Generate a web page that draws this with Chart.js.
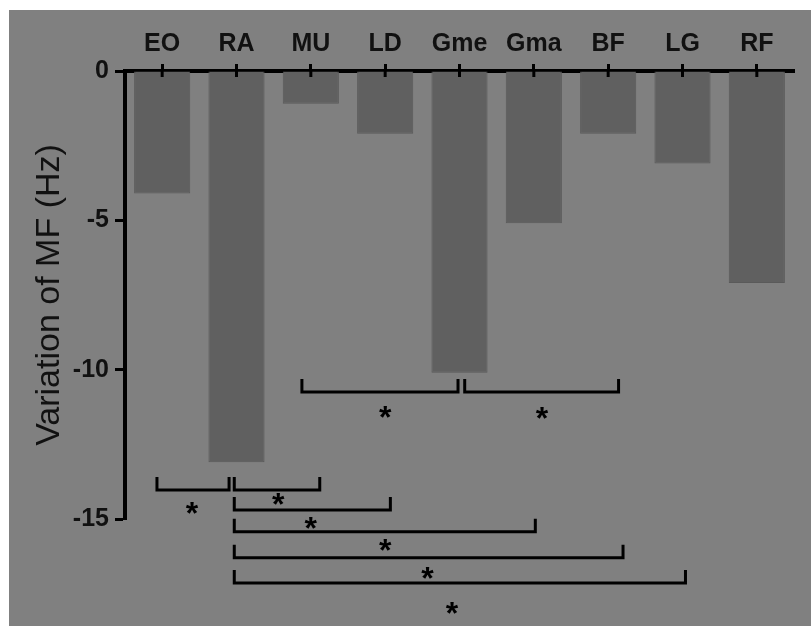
<!DOCTYPE html>
<html>
<head>
<meta charset="utf-8">
<script src="https://cdn.jsdelivr.net/npm/chart.js@4.4.1/dist/chart.umd.min.js"></script>
<style>
  html, body { margin: 0; padding: 0; background: #ffffff; }
  #cadre { position: absolute; left: 9px; top: 10px; width: 802px; height: 616px; background: #808080; }
</style>
</head>
<body>
<div id="cadre"><canvas id="myChart" width="802" height="616"></canvas></div>
<script>
// ----------- DONNEES -----------
const categories = ['EO', 'RA', 'MU', 'LD', 'Gme', 'Gma', 'BF', 'LG', 'RF'];
const variationMF = [-4.1, -13.1, -1.1, -2.1, -10.1, -5.1, -2.1, -3.1, -7.1];
const yTicks = [0, -5, -10, -15];

// crochets de comparaison (x en rang de catégorie, y en Hz)
const bracketStart = [-0.07, 0.97, 0.97, 0.97, 0.97, 0.97, 1.88, 4.07];
const bracketEnd   = [0.90, 2.12, 3.07, 5.02, 6.20, 7.04, 3.98, 6.14];
const bracketLevel = [-14.03, -14.03, -14.70, -15.43, -16.30, -17.14, -10.75, -10.75];
const starX        = [0.40, 1.56, 2.00, 3.00, 3.57, 3.90, 3.00, 5.11];
const starLevel    = [-14.63, -14.33, -15.13, -15.87, -16.81, -17.98, -11.42, -11.45];

const police = "'Liberation Sans', Arial, sans-serif";

// ----------- PLUGIN : crochets + étoiles -----------
const crochets = {
  id: 'crochets',
  afterDraw(chart) {
    const ctx = chart.ctx;
    const x = chart.scales.x;
    const y = chart.scales.y;
    ctx.save();
    ctx.strokeStyle = '#000';
    ctx.lineWidth = 3;
    ctx.lineCap = 'butt';
    ctx.lineJoin = 'miter';

    // partie intérieure des graduations de l'axe x
    categories.forEach((c, i) => {
      const px = x.getPixelForValue(i);
      ctx.beginPath();
      ctx.moveTo(px, y.top);
      ctx.lineTo(px, y.top + 6);
      ctx.stroke();
    });

    ctx.font = 'bold 32px ' + police;
    ctx.fillStyle = '#000';
    ctx.textAlign = 'center';
    ctx.textBaseline = 'alphabetic';
    const m = ctx.measureText('*');
    const dy = (m.actualBoundingBoxAscent - m.actualBoundingBoxDescent) / 2;

    bracketStart.forEach((s, k) => {
      const x1 = x.getPixelForValue(s);
      const x2 = x.getPixelForValue(bracketEnd[k]);
      const yb = y.getPixelForValue(bracketLevel[k]);
      ctx.beginPath();
      ctx.moveTo(x1, yb - 13);
      ctx.lineTo(x1, yb);
      ctx.lineTo(x2, yb);
      ctx.lineTo(x2, yb - 13);
      ctx.stroke();

      ctx.fillText('*', x.getPixelForValue(starX[k]), y.getPixelForValue(starLevel[k]) + dy);
    });
    ctx.restore();
  }
};

// ----------- CONFIGURATION -----------
const data = {
  labels: categories,
  datasets: [{
    label: 'Variation of MF',
    data: variationMF,
    backgroundColor: '#606060',
    borderColor: '#5a5a5a',
    borderWidth: 1,
    categoryPercentage: 1,
    barPercentage: 0.755
  }]
};

const config = {
  type: 'bar',
  data,
  options: {
    responsive: false,
    animation: false,
    layout: { padding: { top: 0, left: 0, right: 17, bottom: 107 } },
    plugins: {
      legend: { display: false },
      tooltip: { enabled: false }
    },
    scales: {
      x: {
        position: 'top',
        afterFit: (scale) => { scale.height = 61; },
        grid: {
          offset: false,
          drawOnChartArea: false,
          color: '#000',
          tickLength: 7,
          tickWidth: 3
        },
        border: { display: true, color: '#000', width: 4 },
        ticks: {
          color: '#111',
          padding: 5,
          font: { family: police, size: 25, weight: 'bold' }
        }
      },
      y: {
        min: -15,
        max: 0,
        afterFit: (scale) => { scale.width = 116; },
        afterBuildTicks: (scale) => { scale.ticks = yTicks.map(v => ({ value: v })); },
        grid: {
          drawOnChartArea: false,
          color: '#000',
          tickLength: 10,
          tickWidth: 3
        },
        border: { display: true, color: '#000', width: 4 },
        ticks: {
          color: '#111',
          padding: 6,
          font: { family: police, size: 25, weight: 'bold' },
          callback: (v) => String(v)
        },
        title: {
          display: true,
          text: 'Variation of MF (Hz)',
          color: '#111',
          padding: { top: 24, bottom: 0 },
          font: { family: police, size: 34, lineHeight: 1 }
        }
      }
    }
  },
  plugins: [crochets]
};

// ----------- RENDU -----------
const myChart = new Chart(document.getElementById('myChart').getContext('2d'), config);
</script>
</body>
</html>
